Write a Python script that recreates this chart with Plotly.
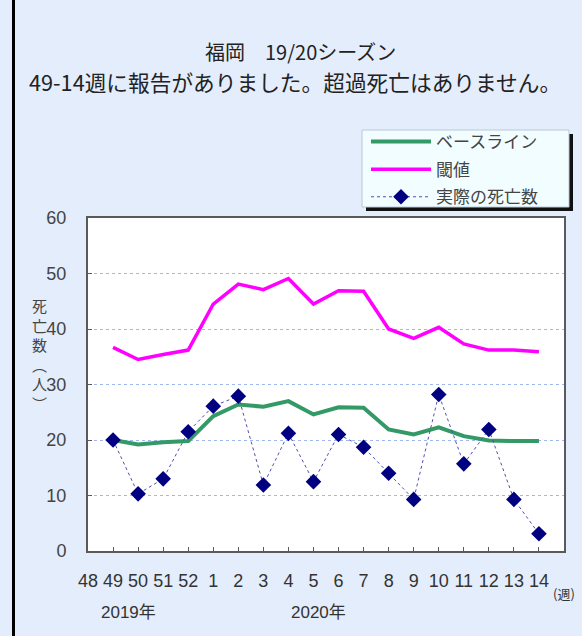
import plotly.graph_objects as go

weeks = ["48", "49", "50", "51", "52", "1", "2", "3", "4", "5", "6", "7",
         "8", "9", "10", "11", "12", "13", "14"]
baseline = [None, 20.0, 19.2, 19.6, 19.8, 24.3, 26.4, 26.0, 27.0, 24.6, 25.9, 25.8,
            21.9, 21.0, 22.3, 20.7, 19.9, 19.8, 19.8]
threshold = [None, 36.7, 34.5, 35.4, 36.2, 44.5, 48.1, 47.1, 49.1, 44.5, 46.9, 46.8,
             40.0, 38.3, 40.3, 37.3, 36.2, 36.2, 35.9]
actual = [None, 20.0, 10.3, 13.0, 21.5, 26.1, 27.9, 11.9, 21.2, 12.5, 21.0, 18.7,
          14.0, 9.3, 28.2, 15.7, 21.9, 9.3, 3.1]
y_ticks = [0, 10, 20, 30, 40, 50, 60]

names = ["ベースライン", "閾値", "実際の死亡数"]
title1 = "福岡　19/20シーズン"
title2 = "49-14週に報告がありました。超過死亡はありません。"
year_labels = ["2019年", "2020年"]
year_pos = [1.6, 9.2]
ylab_text = "死<br>亡<br>数<br>︵<br>人<br>︶"

W, H = 582, 636
L, R, T, B = 88, 18, 218, 85
PW, PH = W - L - R, H - T - B

def px(x):
    return (x - L) / PW

def py(y):
    return (H - B - y) / PH

FONT = "Arial, 'Liberation Sans', 'Noto Sans CJK JP', sans-serif"
JFONT = "'Noto Sans CJK JP', sans-serif"

fig = go.Figure()
fig.add_trace(go.Scatter(x=weeks, y=baseline, name=names[0], mode="lines",
                         legendgroup="a",
                         line=dict(color="#339966", width=4)))
fig.add_trace(go.Scatter(x=weeks, y=threshold, name=names[1], mode="lines",
                         legendgroup="b",
                         line=dict(color="#ff00ff", width=3.5)))
fig.add_trace(go.Scatter(x=weeks, y=actual, name=names[2], mode="lines+markers",
                         legendgroup="c",
                         line=dict(color="#5050b0", width=1, dash="dot"),
                         marker=dict(symbol="diamond", size=12, color="#000080")))

shapes = [
    # left black bar
    dict(type="line", xref="paper", yref="paper", x0=px(13.5), x1=px(13.5),
         y0=py(H + 5), y1=py(-5), line=dict(color="black", width=3)),
    # legend shadow and box
    dict(type="rect", xref="paper", yref="paper", x0=px(366), x1=px(573),
         y0=py(211), y1=py(134), fillcolor="#111111", line=dict(width=0), layer="above"),
    dict(type="rect", xref="paper", yref="paper", x0=px(362), x1=px(569),
         y0=py(207), y1=py(130), fillcolor="#f2fdff", line=dict(color="#b8c8d8", width=1),
         layer="above"),
]

annotations = [
    dict(text=title1, x=px(300), y=py(52), xref="paper", yref="paper", showarrow=False,
         font=dict(family=JFONT, size=20, color="#222222"), xanchor="center", yanchor="middle"),
    dict(text=title2, x=px(295), y=py(81), xref="paper", yref="paper", showarrow=False,
         font=dict(family=JFONT, size=21.7, color="#222222"), xanchor="center", yanchor="middle"),
    dict(text="(週)", x=px(564), y=py(593), xref="paper", yref="paper", showarrow=False,
         font=dict(family=JFONT, size=13, color="#333333"), xanchor="center", yanchor="middle"),
    dict(text=ylab_text, x=px(39), y=py(354), xref="paper", yref="paper", showarrow=False,
         font=dict(family=JFONT, size=15, color="#444444"), xanchor="center", yanchor="middle"),
]
for lab, pos in zip(year_labels, year_pos):
    annotations.append(dict(text=lab, x=pos, y=py(612), xref="x", yref="paper",
                            showarrow=False, xanchor="center", yanchor="middle",
                            font=dict(family=FONT, size=17, color="#333333")))

fig.update_layout(
    width=W, height=H,
    margin=dict(l=L, r=R, t=T, b=B, pad=0),
    paper_bgcolor="#e4edfb",
    plot_bgcolor="white",
    shapes=shapes,
    annotations=annotations,
    showlegend=True,
    legend=dict(x=px(366), y=py(124), xanchor="left", yanchor="top",
                bgcolor="rgba(0,0,0,0)", borderwidth=0, itemwidth=60,
                font=dict(family=JFONT, size=17, color="#444444"),
                tracegroupgap=2.5),
    xaxis=dict(type="category", categoryorder="array", categoryarray=weeks,
               range=[0, 19], tickvals=weeks, ticktext=weeks,
               showgrid=False, zeroline=False,
               showline=True, linecolor="#5a5a5a", linewidth=2, mirror=True,
               ticks="inside", ticklen=4, tickcolor="#5a5a5a",
               tickfont=dict(family=FONT, size=18, color="#333333"),
               ticklabelstandoff=12),
    yaxis=dict(range=[0, 60], tickvals=y_ticks, showgrid=True, gridcolor="#9fb8f0",
               griddash="dot", gridwidth=1, zeroline=False,
               showline=True, linecolor="#5a5a5a", linewidth=2, mirror=True,
               ticks="inside", ticklen=4, tickcolor="#5a5a5a",
               tickfont=dict(family=FONT, size=18, color="#444444"),
               ticklabelstandoff=16),
)

fig.write_html("out.html", config={"displayModeBar": False},
               post_script="document.body.style.margin='0';document.body.style.overflow='hidden';")
